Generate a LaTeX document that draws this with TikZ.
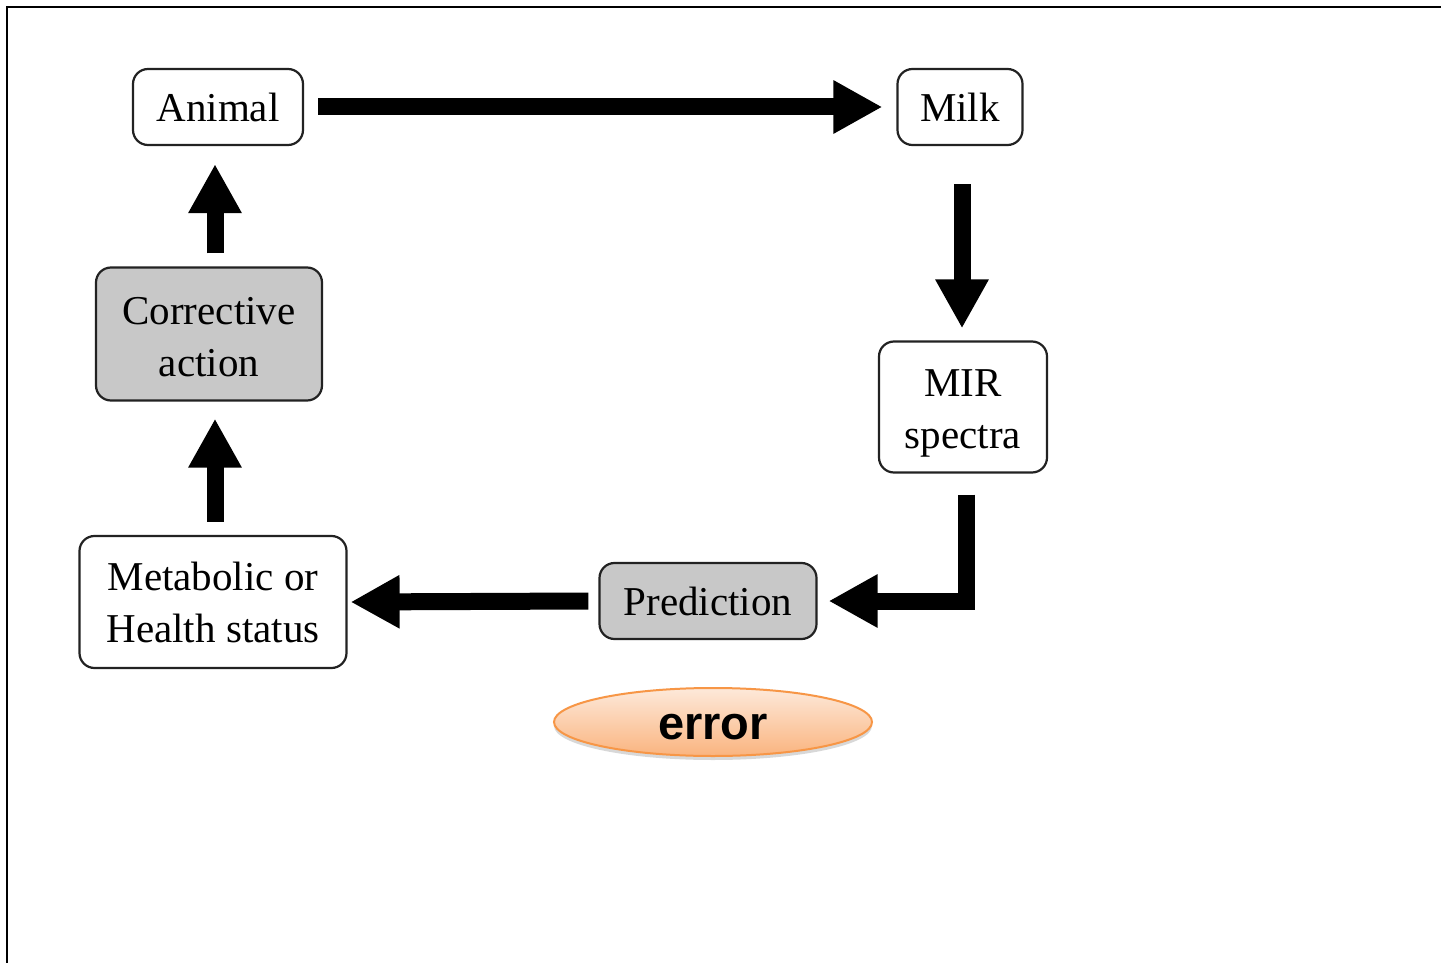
\documentclass[tikz,border=0pt]{standalone}
\usepackage{fontspec}
\setmainfont{Liberation Serif}
\newfontfamily\errfont{Liberation Sans}
\usetikzlibrary{arrows.meta,shadows,shapes.geometric}
\definecolor{boxline}{HTML}{222222}
\definecolor{boxgray}{HTML}{C8C8C8}
\definecolor{ellline}{HTML}{F79646}
\definecolor{elltop}{HTML}{FDE9DA}
\definecolor{ellbot}{HTML}{FAB47F}
\tikzset{
  box/.style={draw=boxline, line width=2.2pt, rounded corners=15pt, align=center,
    inner sep=0pt, font=\fontsize{41}{52}\selectfont},
  graybox/.style={box, fill=boxgray},
  bigarrow/.style={line width=17pt, -{Triangle[length=49pt,width=50pt]}, line join=miter},
}
\begin{document}
\begin{tikzpicture}[x=1pt,y=-1pt]
\useasboundingbox (0,0) rectangle (1441,963);
\fill[white] (0,0) rectangle (1441,963);
\draw[line width=2.5pt] (7,963) -- (7,7) -- (1441,7);

\node[box, minimum width=170pt, minimum height=76pt] (animal) at (218,107) {Animal};
\node[box, minimum width=125pt, minimum height=76pt] (milk) at (960,107) {Milk};
\node[box, minimum width=168pt, minimum height=131pt] (mir) at (963,407) {\rule{0pt}{39pt}MIR\\spectra};
\node[graybox, minimum width=217pt, minimum height=76pt] (pred) at (708,601) {Prediction};
\node[box, minimum width=267pt, minimum height=132pt] (meta) at (213,602) {Metabolic or\\Health status};
\node[graybox, minimum width=226pt, minimum height=133pt] (corr) at (209,334) {\rule{0pt}{34pt}Corrective\\action};

\node[ellipse, draw=ellline, line width=2pt, top color=elltop, bottom color=ellbot,
  minimum width=318pt, minimum height=68pt, inner sep=0pt, text height=34pt, text depth=0pt,
  drop shadow={opacity=0.3, shadow xshift=0pt, shadow yshift=-4pt},
  font=\errfont\bfseries\fontsize{47}{56}\selectfont] (err) at (713,722) {error};

\draw[bigarrow] ([xshift=14pt]animal.east) -- ([xshift=-14pt]milk.west);
\draw[bigarrow] ([xshift=2pt,yshift=-38pt]milk.south) -- ([xshift=-1pt,yshift=12pt]mir.north);
\draw[bigarrow] ([xshift=3pt,yshift=-21pt]mir.south) |- ([xshift=11pt]pred.east);
\draw[bigarrow] ([xshift=-10pt]pred.west) -- ([xshift=3pt]meta.east);
\draw[bigarrow] ([xshift=2pt,yshift=13pt]meta.north) -- ([xshift=6pt,yshift=-17pt]corr.south);
\draw[bigarrow] ([xshift=6pt,yshift=13pt]corr.north) -- ([xshift=-3pt,yshift=-18pt]animal.south);
\end{tikzpicture}
\end{document}
